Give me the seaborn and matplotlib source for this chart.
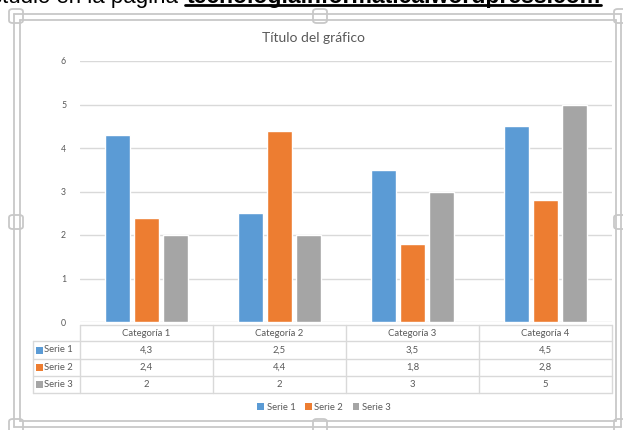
import numpy as np
import pandas as pd
import seaborn as sns
import matplotlib.pyplot as plt
from matplotlib.lines import Line2D
from matplotlib.patches import Rectangle, FancyBboxPatch

# ---- data ----
categorias = ["Categoría 1", "Categoría 2", "Categoría 3", "Categoría 4"]
series = ["Serie 1", "Serie 2", "Serie 3"]
serie1 = [4.3, 2.5, 3.5, 4.5]
serie2 = [2.4, 4.4, 1.8, 2.8]
serie3 = [2, 2, 3, 5]
y_ticks = [0, 1, 2, 3, 4, 5, 6]
titulo = "Título del gráfico"

colores = ["#5B9BD5", "#ED7D31", "#A5A5A5"]
texto = "#595959"
gris_linea = "#D9D9D9"

valores = [serie1, serie2, serie3]
df = pd.DataFrame({
    "categoria": categorias * 3,
    "serie": [s for s in series for _ in categorias],
    "valor": serie1 + serie2 + serie3,
})

sns.set_theme(style="white")
plt.rcParams["font.family"] = ["Lato", "DejaVu Sans"]

W, H = 623, 430
fig = plt.figure(figsize=(W / 100, H / 100), dpi=100)
fig.patch.set_facecolor("white")


def fx(x):
    return x / W


def fy(y):
    return 1 - y / H


# plot area: x 80..612 px, y 61..322 px
ax = fig.add_axes([fx(80), fy(322), (612 - 80) / W, (322 - 61) / H])
sns.barplot(data=df, x="categoria", y="valor", hue="serie", order=categorias,
            hue_order=series, palette=colores, width=0.66, gap=0.16,
            saturation=1, legend=False, ax=ax, zorder=3)
ax.set_xlim(-0.5, 3.5)
ax.set_ylim(0, 6)
ax.set_yticks(y_ticks)
ax.set_yticklabels([str(v) for v in y_ticks])
ax.tick_params(axis="y", length=0, pad=10, labelsize=6.3, labelcolor=texto)
ax.set_xticks([])
ax.set_xlabel("")
ax.set_ylabel("")
for s in ax.spines.values():
    s.set_visible(False)
ax.yaxis.grid(True, color=gris_linea, linewidth=1.0, zorder=0)
ax.set_axisbelow(True)
ax.patch.set_alpha(0)

fig.text(fx(313), fy(38), titulo, ha="center", va="center",
         fontsize=10, color=texto)

# ---- data table under the plot ----
def data_to_px_x(xd):
    disp = ax.transData.transform((xd, 0))
    return fig.transFigure.inverted().transform(disp)[0] * W


row_y = [325, 341, 359, 376, 393]
col_x = [data_to_px_x(i - 0.5) for i in range(len(categorias) + 1)]
label_left = 33
fs_tabla = 6.8


def hline(x0, x1, y, color=gris_linea, lw=1.0):
    fig.add_artist(Line2D([fx(x0), fx(x1)], [fy(y), fy(y)],
                          color=color, linewidth=lw))


def vline(x, y0, y1, color=gris_linea, lw=1.0):
    fig.add_artist(Line2D([fx(x), fx(x)], [fy(y0), fy(y1)],
                          color=color, linewidth=lw))


hline(col_x[0], col_x[-1], row_y[0])
for y in row_y[1:]:
    hline(label_left, col_x[-1], y)
vline(label_left, row_y[1], row_y[-1])
for x in col_x:
    vline(x, row_y[0], row_y[-1])

for i, cat in enumerate(categorias):
    cx = (col_x[i] + col_x[i + 1]) / 2
    fig.text(fx(cx), fy((row_y[0] + row_y[1]) / 2), cat, ha="center",
             va="center", fontsize=fs_tabla, color=texto)


def fmt(v):
    return f"{v:g}".replace(".", ",")


for r, (nombre, vals, col) in enumerate(zip(series, valores, colores)):
    yc = (row_y[r + 1] + row_y[r + 2]) / 2
    fig.add_artist(Rectangle((fx(36), fy(yc + 3.5)), 7 / W, 7 / H,
                             facecolor=col, edgecolor="none"))
    fig.text(fx(44), fy(yc), nombre, ha="left", va="center",
             fontsize=fs_tabla, color=texto)
    for i, v in enumerate(vals):
        cx = (col_x[i] + col_x[i + 1]) / 2
        fig.text(fx(cx), fy(yc), fmt(v), ha="center", va="center",
                 fontsize=fs_tabla, color=texto)

# ---- legend ----
handles = [Rectangle((0, 0), 1, 1, facecolor=c, edgecolor="none") for c in colores]
fig.legend(handles, series, loc="center", bbox_to_anchor=(fx(324), fy(407)),
           ncol=3, frameon=False, fontsize=6.8, labelcolor=texto,
           handlelength=0.7, handleheight=0.7, handletextpad=0.3,
           columnspacing=1.0)

# ---- selection frame around the chart object ----
marco = "#C8C8C8"
for (x0, y0, x1, y1) in [(14, 14, 621, 427), (20, 20, 616, 421)]:
    hline(x0, x1, y0, marco, 1.3)
    hline(x0, x1, y1, marco, 1.3)
    vline(x0, y0, y1, marco, 1.3)
    vline(x1, y0, y1, marco, 1.3)

for (x0, y0) in [(9, 9), (313, 9), (9, 215), (313, 419), (9, 419), (614, 9),
                 (614, 215), (614, 419)]:
    fig.add_artist(FancyBboxPatch((fx(x0), fy(y0 + 14)), 14 / W, 14 / H,
                                  boxstyle="round,pad=0,rounding_size=0.006",
                                  facecolor="white", edgecolor=marco,
                                  linewidth=1.3))

# ---- line of page text above the chart (runs past the top edge) ----
fig.text(fx(184), fy(2.5), "Estudio en la página ", ha="right",
         va="baseline", fontsize=16, color="black",
         family=["Liberation Sans", "DejaVu Sans"])
fig.text(fx(601), fy(2.5), "tecnologiainformatica.wordpress.com", ha="right",
         va="baseline", fontsize=16.6, color="black", fontweight="bold",
         family=["Liberation Sans", "DejaVu Sans"])
fig.add_artist(Line2D([fx(185), fx(601)], [fy(5), fy(5)], color="black",
                      linewidth=2.0))

fig.savefig("out.png", dpi=100, facecolor="white")
